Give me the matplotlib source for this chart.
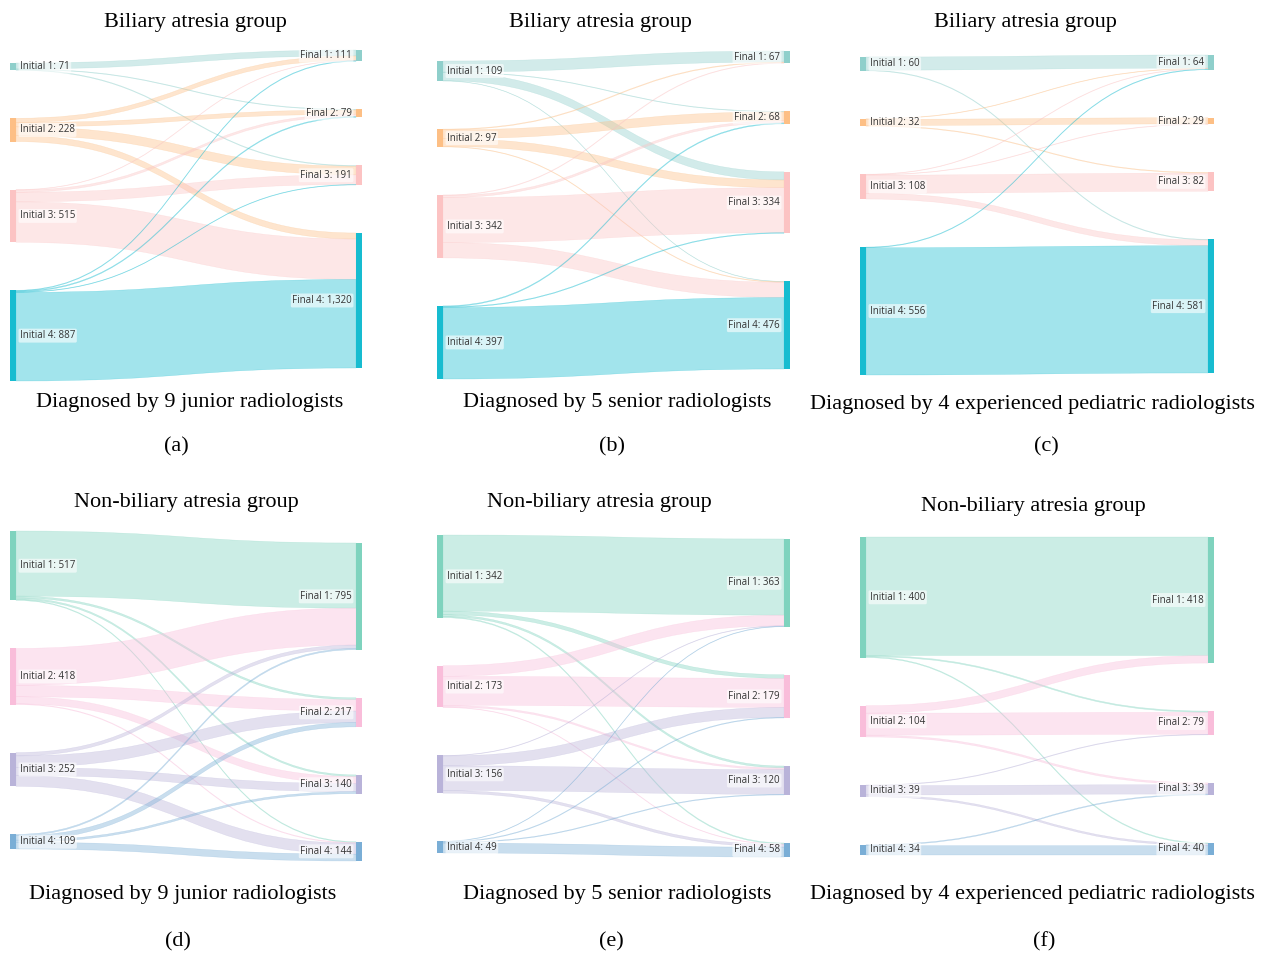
import matplotlib
matplotlib.use("Agg")
import matplotlib.pyplot as plt
from matplotlib.path import Path
from matplotlib.patches import PathPatch, Rectangle

# ---- data: flows from initial (rows) to final (cols) diagnosis category ----
flows_a = [[58, 6, 7, 0], [42, 42, 85, 59], [4, 22, 94, 395], [7, 9, 5, 866]]
flows_b = [[60, 3, 44, 2], [4, 48, 42, 3], [3, 12, 244, 83], [0, 5, 4, 388]]
flows_c = [[57, 0, 0, 3], [2, 27, 3, 0], [2, 2, 79, 25], [3, 0, 0, 553]]
flows_d = [[485, 14, 12, 6], [275, 85, 53, 5], [25, 85, 60, 82], [10, 33, 15, 51]]
flows_e = [[315, 15, 8, 4], [44, 120, 7, 2], [2, 41, 102, 11], [2, 3, 3, 41]]
flows_f = [[393, 4, 0, 3], [25, 73, 6, 0], [0, 2, 31, 6], [0, 0, 3, 31]]

initial_a = [71, 228, 515, 887]
final_a = [111, 79, 191, 1320]
initial_b = [109, 97, 342, 397]
final_b = [67, 68, 334, 476]
initial_c = [60, 32, 108, 556]
final_c = [64, 29, 82, 581]
initial_d = [517, 418, 252, 109]
final_d = [795, 217, 140, 144]
initial_e = [342, 173, 156, 49]
final_e = [363, 179, 120, 58]
initial_f = [400, 104, 39, 34]
final_f = [418, 79, 39, 40]

titles = ["Biliary atresia group"] * 3 + ["Non-biliary atresia group"] * 3
captions = ["Diagnosed by 9 junior radiologists",
            "Diagnosed by 5 senior radiologists",
            "Diagnosed by 4 experienced pediatric radiologists"] * 2
letters = ["(a)", "(b)", "(c)", "(d)", "(e)", "(f)"]

colors_ba = ["#8fcfcb", "#fdbf85", "#fcc3c3", "#17bcd0"]
colors_nba = ["#7fd3be", "#f9bdda", "#b9b3d9", "#7aaed6"]

# ---- layout (pixels) ----
W, H = 1264, 958
# x_left, x_right, top_left, right_shift
panels = [
    (10, 356, 63, -13), (437, 784, 61, -10), (860, 1208, 57, -2),
    (10, 356, 531, 12), (437, 784, 535, 4), (860, 1208, 537, 0),
]
title_pos = [(195, 22), (600, 22), (1025, 22), (186, 503), (599, 503), (1033, 507)]
caption_pos = [(190, 403), (617, 403), (1032, 404), (183, 895), (617, 895), (1032, 895)]
letter_pos = [(176, 447), (612, 447), (1046, 447), (178, 942), (611, 942), (1044, 942)]

NODE_W = 6
SPAN = 318
PAD = 48


def band(ax, x0, x1, s0, s1, t0, t1, color):
    xm = (x0 + x1) / 2
    verts = [(x0, s0), (xm, s0), (xm, t0), (x1, t0), (x1, t1),
             (xm, t1), (xm, s1), (x0, s1), (x0, s0)]
    codes = [Path.MOVETO, Path.CURVE4, Path.CURVE4, Path.CURVE4, Path.LINETO,
             Path.CURVE4, Path.CURVE4, Path.CURVE4, Path.CLOSEPOLY]
    ax.add_patch(PathPatch(Path(verts, codes), facecolor=color, edgecolor=color,
                           lw=0.3, alpha=0.4, zorder=1))


def node_positions(totals, top, scale):
    pos = []
    y = top
    for v in totals:
        h = v * scale
        pos.append((y, y + h))
        y += h + PAD
    return pos


def draw_sankey(ax, flows, init_lbl, final_lbl, colors, layout):
    xl, xr, top, shift = layout
    n = len(flows)
    src_tot = [sum(r) for r in flows]
    dst_tot = [sum(flows[i][j] for i in range(n)) for j in range(n)]
    total = sum(src_tot)
    scale = (SPAN - PAD * (n - 1)) / total
    left = node_positions(src_tot, top, scale)
    right = node_positions(dst_tot, top + shift, scale)

    src_off = [p[0] for p in left]
    for i in range(n):
        for j in range(n):
            v = flows[i][j]
            if v <= 0:
                continue
            h = v * scale
            s0 = src_off[i]
            src_off[i] += h
            # target side stacks by source order
            t0 = right[j][0] + sum(flows[k][j] for k in range(i)) * scale
            band(ax, xl + NODE_W, xr, s0, s0 + h, t0, t0 + h, colors[i])

    box = dict(boxstyle="round,pad=0.15", fc="white", ec="none", alpha=0.6)
    for i, (y0, y1) in enumerate(left):
        ax.add_patch(Rectangle((xl, y0), NODE_W, max(y1 - y0, 1), fc=colors[i],
                               ec="none", zorder=2))
        ax.text(xl + NODE_W + 4, (y0 + y1) / 2, f"Initial {i + 1}: {init_lbl[i]:,}",
                ha="left", va="center", fontsize=7, color="#333333",
                family="Open Sans", bbox=box, zorder=3)
    for j, (y0, y1) in enumerate(right):
        ax.add_patch(Rectangle((xr, y0), NODE_W, max(y1 - y0, 1), fc=colors[j],
                               ec="none", zorder=2))
        ax.text(xr - 4, (y0 + y1) / 2, f"Final {j + 1}: {final_lbl[j]:,}",
                ha="right", va="center", fontsize=7, color="#333333",
                family="Open Sans", bbox=box, zorder=3)


fig = plt.figure(figsize=(W / 100, H / 100), dpi=100)
ax = fig.add_axes([0, 0, 1, 1])
ax.set_xlim(0, W)
ax.set_ylim(H, 0)
ax.axis("off")

all_flows = [flows_a, flows_b, flows_c, flows_d, flows_e, flows_f]
all_init = [initial_a, initial_b, initial_c, initial_d, initial_e, initial_f]
all_final = [final_a, final_b, final_c, final_d, final_e, final_f]

for k in range(6):
    cols = colors_ba if k < 3 else colors_nba
    draw_sankey(ax, all_flows[k], all_init[k], all_final[k], cols, panels[k])
    serif = dict(family="Liberation Serif", fontsize=16, color="black",
                 ha="center", va="center")
    ax.text(*title_pos[k], titles[k], **serif)
    ax.text(*caption_pos[k], captions[k], **serif)
    ax.text(*letter_pos[k], letters[k], **serif)

fig.savefig("out.png", dpi=100, facecolor="white")
